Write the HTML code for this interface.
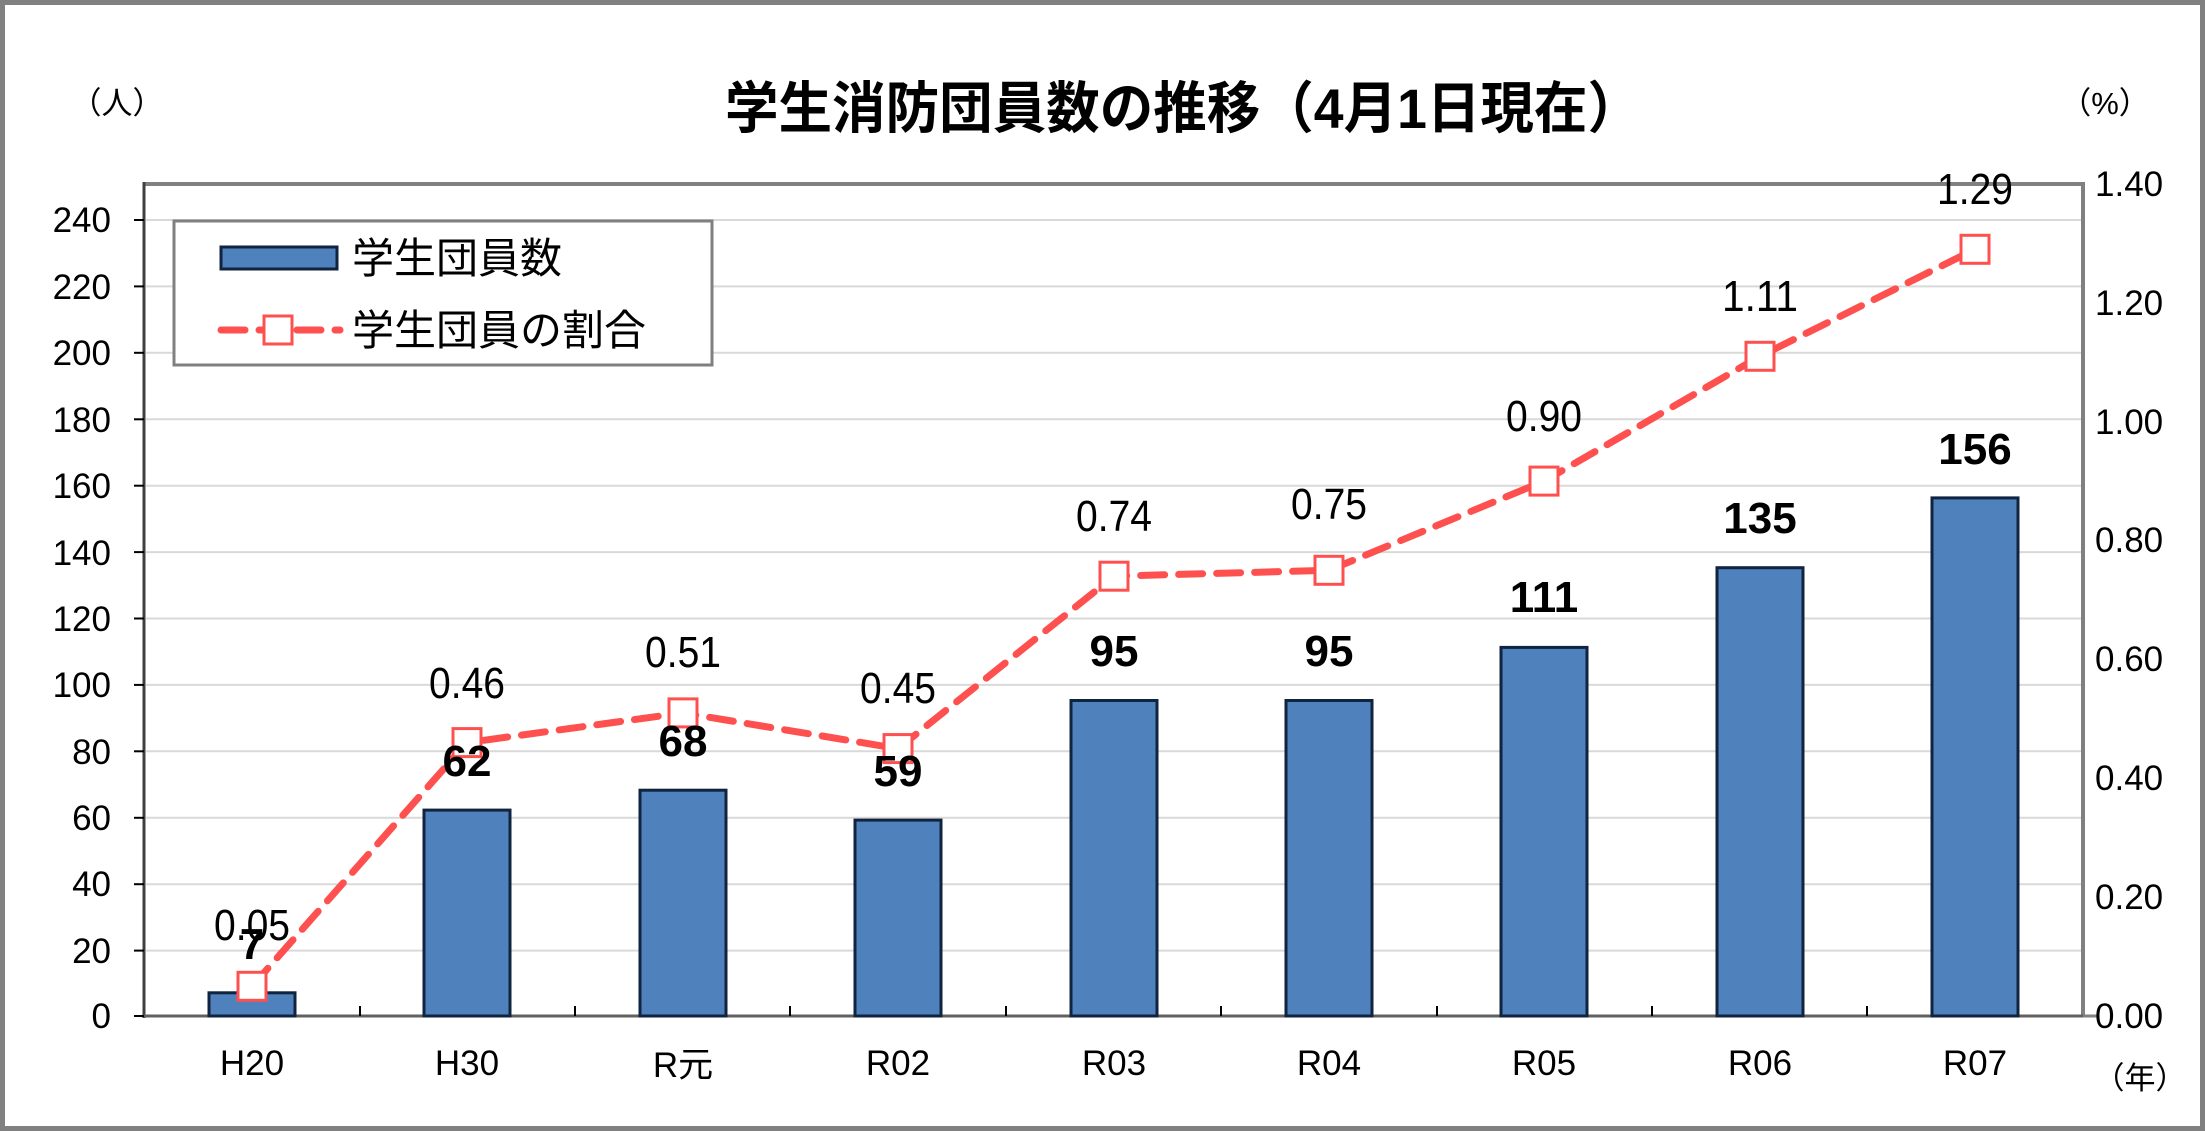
<!DOCTYPE html>
<html><head><meta charset="utf-8"><style>
html,body{margin:0;padding:0;background:#fff}
svg{display:block}
text{font-family:"Liberation Sans","Noto Sans CJK JP",sans-serif;fill:#000}
</style></head><body>
<svg width="2205" height="1131" viewBox="0 0 2205 1131" xmlns="http://www.w3.org/2000/svg">
<rect x="2.5" y="2.5" width="2200" height="1126" fill="#fff" stroke="#808080" stroke-width="5"/>
<text x="1183" y="128" font-size="56" font-weight="bold" text-anchor="middle" textLength="916" lengthAdjust="spacingAndGlyphs">学生消防団員数の推移（4月1日現在）</text>
<text x="117" y="114" font-size="31" text-anchor="middle">（人）</text>
<text x="2105" y="114" font-size="31" text-anchor="middle">（%）</text>
<text x="2140" y="1089" font-size="31" text-anchor="middle">（年）</text>
<g stroke="#d9d9d9" stroke-width="2">
<line x1="146" x2="2083" y1="950.6" y2="950.6"/><line x1="146" x2="2083" y1="884.2" y2="884.2"/><line x1="146" x2="2083" y1="817.8" y2="817.8"/><line x1="146" x2="2083" y1="751.3" y2="751.3"/><line x1="146" x2="2083" y1="684.9" y2="684.9"/><line x1="146" x2="2083" y1="618.5" y2="618.5"/><line x1="146" x2="2083" y1="552.1" y2="552.1"/><line x1="146" x2="2083" y1="485.7" y2="485.7"/><line x1="146" x2="2083" y1="419.3" y2="419.3"/><line x1="146" x2="2083" y1="352.8" y2="352.8"/><line x1="146" x2="2083" y1="286.4" y2="286.4"/><line x1="146" x2="2083" y1="220" y2="220"/>
</g>
<line x1="144" y1="184" x2="2085" y2="184" stroke="#808080" stroke-width="4"/>
<line x1="2083" y1="184" x2="2083" y2="1016" stroke="#808080" stroke-width="4"/>
<line x1="2083" y1="1016" x2="2097" y2="1016" stroke="#808080" stroke-width="3"/>
<line x1="144" y1="182" x2="144" y2="1018" stroke="#404040" stroke-width="3"/>
<line x1="142" y1="1016" x2="2083" y2="1016" stroke="#606060" stroke-width="3"/>
<g stroke="#000" stroke-width="2">
<line x1="134" x2="144" y1="1016" y2="1016"/><line x1="134" x2="144" y1="950.6" y2="950.6"/><line x1="134" x2="144" y1="884.2" y2="884.2"/><line x1="134" x2="144" y1="817.8" y2="817.8"/><line x1="134" x2="144" y1="751.3" y2="751.3"/><line x1="134" x2="144" y1="684.9" y2="684.9"/><line x1="134" x2="144" y1="618.5" y2="618.5"/><line x1="134" x2="144" y1="552.1" y2="552.1"/><line x1="134" x2="144" y1="485.7" y2="485.7"/><line x1="134" x2="144" y1="419.3" y2="419.3"/><line x1="134" x2="144" y1="352.8" y2="352.8"/><line x1="134" x2="144" y1="286.4" y2="286.4"/><line x1="134" x2="144" y1="220" y2="220"/>
<line x1="360" x2="360" y1="1006" y2="1016"/><line x1="575" x2="575" y1="1006" y2="1016"/><line x1="790" x2="790" y1="1006" y2="1016"/><line x1="1006" x2="1006" y1="1006" y2="1016"/><line x1="1221" x2="1221" y1="1006" y2="1016"/><line x1="1437" x2="1437" y1="1006" y2="1016"/><line x1="1652" x2="1652" y1="1006" y2="1016"/><line x1="1867" x2="1867" y1="1006" y2="1016"/>
</g>
<g font-size="35" text-anchor="end">
<text x="111" y="1028">0</text><text x="111" y="963">20</text><text x="111" y="896">40</text><text x="111" y="830">60</text><text x="111" y="764">80</text><text x="111" y="697">100</text><text x="111" y="631">120</text><text x="111" y="565">140</text><text x="111" y="498">160</text><text x="111" y="432">180</text><text x="111" y="365">200</text><text x="111" y="299">220</text><text x="111" y="232">240</text>
</g>
<g font-size="35">
<text x="2095" y="1028">0.00</text><text x="2095" y="909">0.20</text><text x="2095" y="790">0.40</text><text x="2095" y="671">0.60</text><text x="2095" y="552">0.80</text><text x="2095" y="434">1.00</text><text x="2095" y="315">1.20</text><text x="2095" y="196">1.40</text>
</g>
<g font-size="35" text-anchor="middle">
<text x="252" y="1075">H20</text><text x="467" y="1075">H30</text><text x="683" y="1077">R元</text><text x="898" y="1075">R02</text><text x="1114" y="1075">R03</text><text x="1329" y="1075">R04</text><text x="1544" y="1075">R05</text><text x="1760" y="1075">R06</text><text x="1975" y="1075">R07</text>
</g>
<g fill="#4f81bd" stroke="#10243f" stroke-width="3">
<rect x="209" y="992.8" width="86" height="23.2"/>
<rect x="424" y="810.1" width="86" height="205.9"/>
<rect x="640" y="790.2" width="86" height="225.8"/>
<rect x="855" y="820.1" width="86" height="195.9"/>
<rect x="1071" y="700.5" width="86" height="315.5"/>
<rect x="1286" y="700.5" width="86" height="315.5"/>
<rect x="1501" y="647.4" width="86" height="368.6"/>
<rect x="1717" y="567.7" width="86" height="448.3"/>
<rect x="1932" y="497.9" width="86" height="518.1"/>
</g>
<polyline fill="none" stroke="#ff5050" stroke-width="7" stroke-dasharray="24 14" stroke-linecap="round" points="252,986.3 467,742.6 683,712.9 898,748.6 1114,576.2 1329,570.3 1544,481.1 1760,356.3 1975,249.3"/>
<g fill="#fff" stroke="#ff5050" stroke-width="3">
<rect x="238" y="972.3" width="28" height="28"/><rect x="453" y="728.6" width="28" height="28"/><rect x="669" y="698.9" width="28" height="28"/><rect x="884" y="734.6" width="28" height="28"/><rect x="1100" y="562.2" width="28" height="28"/><rect x="1315" y="556.3" width="28" height="28"/><rect x="1530" y="467.1" width="28" height="28"/><rect x="1746" y="342.3" width="28" height="28"/><rect x="1961" y="235.3" width="28" height="28"/>
</g>
<g font-size="44" text-anchor="middle">
<text x="252" y="940" textLength="76" lengthAdjust="spacingAndGlyphs">0.05</text>
<text x="467" y="698" textLength="76" lengthAdjust="spacingAndGlyphs">0.46</text>
<text x="683" y="667" textLength="76" lengthAdjust="spacingAndGlyphs">0.51</text>
<text x="898" y="703" textLength="76" lengthAdjust="spacingAndGlyphs">0.45</text>
<text x="1114" y="531" textLength="76" lengthAdjust="spacingAndGlyphs">0.74</text>
<text x="1329" y="519" textLength="76" lengthAdjust="spacingAndGlyphs">0.75</text>
<text x="1544" y="431" textLength="76" lengthAdjust="spacingAndGlyphs">0.90</text>
<text x="1760" y="311" textLength="76" lengthAdjust="spacingAndGlyphs">1.11</text>
<text x="1975" y="204" textLength="76" lengthAdjust="spacingAndGlyphs">1.29</text>
</g>
<g font-size="44" font-weight="bold" text-anchor="middle">
<text x="252" y="959">7</text>
<text x="467" y="776">62</text>
<text x="683" y="756">68</text>
<text x="898" y="786">59</text>
<text x="1114" y="666">95</text>
<text x="1329" y="666">95</text>
<text x="1544" y="612">111</text>
<text x="1760" y="533">135</text>
<text x="1975" y="464">156</text>
</g>
<rect x="174" y="221" width="538" height="144" fill="#fff" stroke="#808080" stroke-width="3"/>
<rect x="221" y="247" width="116" height="22" fill="#4f81bd" stroke="#10243f" stroke-width="3"/>
<line x1="221" y1="330" x2="340" y2="330" stroke="#ff5050" stroke-width="7" stroke-dasharray="24 14" stroke-linecap="round"/>
<rect x="264" y="316" width="28" height="28" fill="#fff" stroke="#ff5050" stroke-width="3"/>
<text x="352" y="273" font-size="42">学生団員数</text>
<text x="352" y="345" font-size="42">学生団員の割合</text>
</svg>
</body></html>
